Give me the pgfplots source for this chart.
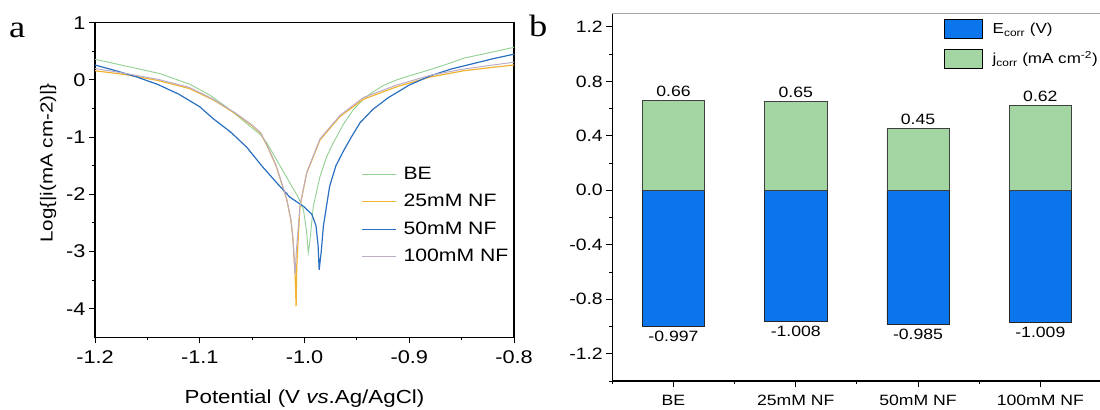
\documentclass[border=0pt]{standalone}
\usepackage{fontspec}
\setmainfont{Liberation Sans}[FakeStretch=1.18]
\newfontfamily\panelfont{Liberation Serif}[FakeStretch=1.18]
\usepackage{pgfplots}
\pgfplotsset{compat=1.18}
\definecolor{cBE}{RGB}{146,208,146}
\definecolor{c25}{RGB}{240,180,50}
\definecolor{c50}{RGB}{42,112,192}
\definecolor{c100}{RGB}{188,172,198}
\definecolor{barblue}{RGB}{11,118,236}
\definecolor{bargreen}{RGB}{164,214,164}
\begin{document}
\begin{tikzpicture}
\begin{axis}[
  at={(95bp,72.7bp)}, anchor=south west, scale only axis,
  width=419bp, height=314.6bp,
  xmin=-1.2, xmax=-0.8, ymin=-4.5, ymax=1,
  xtick={-1.2,-1.1,-1.0,-0.9,-0.8}, xticklabels={-1.2,-1.1,-1.0,-0.9,-0.8},
  ytick={-4,-3,-2,-1,0,1}, yticklabels={-4,-3,-2,-1,0,1},
  minor x tick num=1, minor y tick num=1,
  tick align=outside, tick pos=left,
  major tick length=6bp, minor tick length=3bp,
  axis line style={line width=1.1bp},
  every tick/.style={black, line width=1bp},
  tick label style={font=\fontsize{18.5}{22}\selectfont},
  xticklabel style={yshift=-4bp},
  xlabel={Potential (V \textit{vs}.Ag/AgCl)},
  ylabel={Log\{|i(mA cm-2)|\}},
  xlabel style={font=\fontsize{19}{22}\selectfont, at={(axis description cs:0.5,-0.209)}, anchor=base},
  ylabel style={font=\fontsize{17.5}{21}\selectfont, at={(axis description cs:-0.112,0.554)}, anchor=center},
  legend image code/.code={\draw[#1] (0bp,0bp) -- (34bp,0bp);},
  legend cell align=left,
  legend style={draw=none, fill=none, at={(axis description cs:0.6365,0.545)}, anchor=north west,
    inner sep=0pt, row sep=10.3bp, column sep=6.5bp,
    font=\fontsize{18}{21}\selectfont,
    nodes={inner sep=0pt, text height=13.5bp, text depth=3.5bp}},
]
\addplot[cBE, line width=0.9bp] coordinates {
(-1.200,0.36) (-1.170,0.24) (-1.138,0.11) (-1.109,-0.08) (-1.090,-0.27) (-1.074,-0.48)
(-1.058,-0.72) (-1.042,-0.96) (-1.036,-1.10) (-1.025,-1.45) (-1.014,-1.80) (-1.006,-2.05)
(-1.001,-2.27) (-0.998,-2.65) (-0.9964,-3.02) (-0.9950,-2.85) (-0.9916,-2.21) (-0.9852,-1.69)
(-0.9790,-1.35) (-0.9725,-1.10) (-0.9630,-0.78) (-0.9534,-0.52) (-0.9450,-0.36) (-0.9370,-0.24)
(-0.925,-0.10) (-0.912,0.00) (-0.900,0.07) (-0.880,0.18) (-0.860,0.30) (-0.848,0.38)
(-0.830,0.45) (-0.815,0.51) (-0.800,0.57)};
\addlegendentry{BE}
\addplot[c25, line width=1.2bp] coordinates {
(-1.200,0.16) (-1.170,0.09) (-1.140,-0.01) (-1.110,-0.15) (-1.087,-0.35) (-1.065,-0.60)
(-1.050,-0.80) (-1.042,-0.93) (-1.035,-1.18) (-1.027,-1.51) (-1.022,-1.80) (-1.017,-2.09)
(-1.013,-2.45) (-1.011,-2.79) (-1.009,-3.40) (-1.008,-3.96) (-1.0074,-3.26) (-1.0043,-2.21)
(-0.9979,-1.63) (-0.9852,-1.05) (-0.9661,-0.64) (-0.944,-0.34) (-0.912,-0.12) (-0.880,0.05)
(-0.848,0.16) (-0.820,0.22) (-0.800,0.26)};
\addlegendentry{25mM NF}
\addplot[c50, line width=1.2bp] coordinates {
(-1.200,0.26) (-1.180,0.16) (-1.160,0.05) (-1.140,-0.08) (-1.120,-0.25) (-1.100,-0.47)
(-1.087,-0.68) (-1.070,-0.92) (-1.055,-1.18) (-1.040,-1.52) (-1.025,-1.83) (-1.014,-2.05)
(-1.001,-2.21) (-0.993,-2.35) (-0.989,-2.55) (-0.987,-2.9) (-0.986,-3.32) (-0.984,-3.0)
(-0.982,-2.56) (-0.976,-1.86) (-0.970,-1.50) (-0.963,-1.25) (-0.955,-0.99) (-0.947,-0.75)
(-0.935,-0.52) (-0.920,-0.31) (-0.900,-0.09) (-0.880,0.07) (-0.860,0.19) (-0.840,0.28)
(-0.820,0.37) (-0.800,0.45)};
\addlegendentry{50mM NF}
\addplot[c100, line width=1.0bp] coordinates {
(-1.200,0.20) (-1.170,0.11) (-1.140,0.01) (-1.110,-0.13) (-1.087,-0.34) (-1.065,-0.59)
(-1.050,-0.79) (-1.042,-0.92) (-1.035,-1.17) (-1.027,-1.50) (-1.022,-1.79) (-1.017,-2.08)
(-1.013,-2.44) (-1.011,-2.78) (-1.009,-3.40) (-1.0078,-3.0) (-1.0043,-2.20)
(-0.9979,-1.62) (-0.9852,-1.03) (-0.9661,-0.62) (-0.944,-0.31) (-0.912,-0.09) (-0.880,0.08)
(-0.848,0.19) (-0.820,0.26) (-0.800,0.31)};
\addlegendentry{100mM NF}
\end{axis}

\begin{axis}[
  at={(612.3bp,29bp)}, anchor=south west, scale only axis,
  width=489.2bp, height=367.7bp,
  xmin=-0.5, xmax=3.5, ymin=-1.4, ymax=1.3,
  clip=false,
  axis lines=left, axis line style={-, line width=1.1bp},
  xtick={0,1,2,3}, xticklabels={BE,25mM NF,50mM NF,100mM NF},
  minor xtick={-0.5,0.5,1.5,2.5,3.5},
  ytick={-1.2,-0.8,-0.4,0,0.4,0.8,1.2},
  yticklabels={-1.2,-0.8,-0.4,0.0,0.4,0.8,1.2},
  minor ytick={-1.4,-1.0,-0.6,-0.2,0.2,0.6,1.0},
  tick align=outside,
  major tick length=6bp, minor tick length=3bp,
  every tick/.style={black, line width=1bp},
  yticklabel style={font=\fontsize{16.5}{19}\selectfont},
  xticklabel style={font=\fontsize{15}{18}\selectfont, yshift=-5bp},
  legend cell align=left,
  legend style={draw=none, fill=none, at={(axis description cs:0.6774,0.9837)}, anchor=north west,
    inner sep=0pt, row sep=9.4bp, column sep=10bp,
    font=\fontsize{14.5}{17}\selectfont,
    nodes={inner sep=0pt}},
]
\addplot[ybar, bar width=0.51, bar shift=0pt, fill=barblue, draw=black!85, line width=0.7bp,
  point meta=explicit symbolic, nodes near coords, nodes near coords align={below},
  every node near coord/.append style={font=\fontsize{15}{18}\selectfont, black, yshift=-1bp},
  legend image code/.code={\draw[fill=barblue, draw=black, line width=0.8bp] (0bp,-9.5bp) rectangle (38bp,9.5bp);}]
  coordinates {(0,-0.997)[-0.997] (1,-0.963)[-1.008] (2,-0.985)[-0.985] (3,-0.970)[-1.009]};
\addlegendentry{E\textsubscript{corr} (V)}
\addplot[ybar, bar width=0.51, bar shift=0pt, fill=bargreen, draw=black!75, line width=0.7bp,
  point meta=explicit symbolic, nodes near coords, nodes near coords align={above},
  every node near coord/.append style={font=\fontsize{15}{18}\selectfont, black},
  legend image code/.code={\draw[fill=bargreen, draw=black, line width=0.8bp] (0bp,-9.5bp) rectangle (38bp,9.5bp);}]
  coordinates {(0,0.66)[0.66] (1,0.653)[0.65] (2,0.452)[0.45] (3,0.621)[0.62]};
\addlegendentry{j\textsubscript{corr} (mA cm\textsuperscript{-2})}
\draw[gray!70, line width=0.9bp] (rel axis cs:0,1) -- (rel axis cs:1,1);
\end{axis}

\node[anchor=base west, inner sep=0pt, font=\panelfont\fontsize{31}{31}\selectfont] at (9bp,372bp) {a};
\node[anchor=base west, inner sep=0pt, font=\panelfont\fontsize{31}{31}\selectfont] at (529bp,373bp) {b};
\pgfresetboundingbox
\useasboundingbox (0bp,0bp) rectangle (1100bp,410bp);
\end{tikzpicture}
\end{document}
